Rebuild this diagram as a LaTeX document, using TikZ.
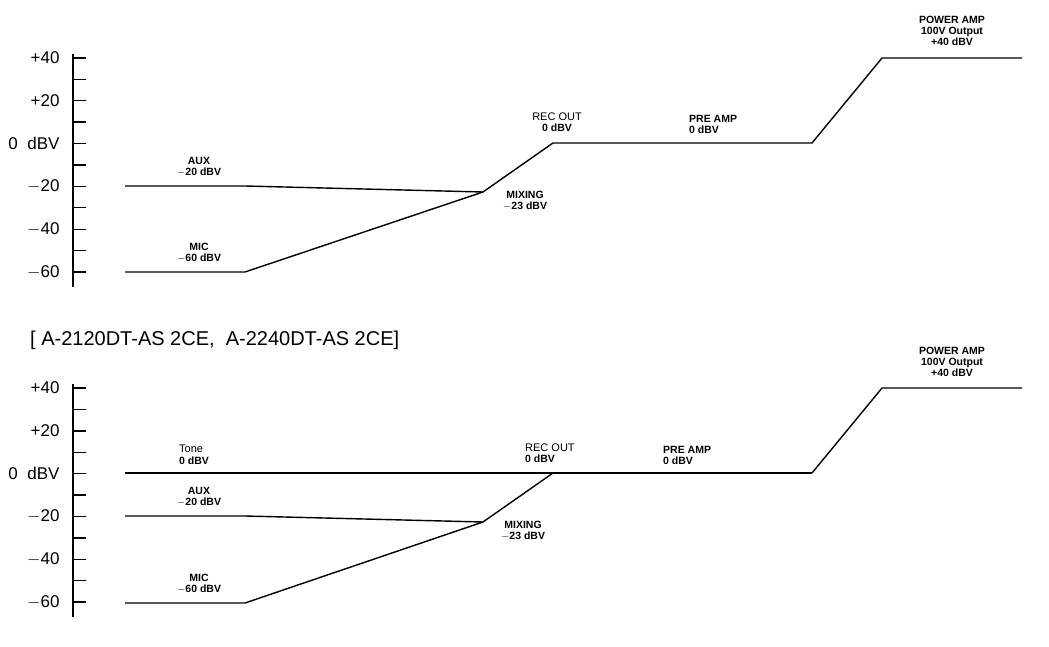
\documentclass[tikz,border=0pt]{standalone}
\usepackage{fontspec}
\setmainfont{Liberation Sans}
\begin{document}
\begin{tikzpicture}[x=1pt,y=-1pt,
  ln/.style={line width=1.4pt},
  ax/.style={line width=1.4pt},
  ylab/.style={anchor=east,font=\fontsize{17}{17}\selectfont},
  lab/.style={align=center,font=\fontsize{10.5}{11}\selectfont\bfseries,inner sep=0pt},
  pt/.style={inner sep=0pt,minimum size=0pt}]
\useasboundingbox (0,0) rectangle (1049,647);
% ---------- axes ----------
\foreach \b in {0,330}{
  \draw[ax] (73,{54+\b}) -- (73,{287+\b});
  \foreach \i in {0,...,10}{
    \draw[ax] (73,{58+\b+\i*21.4}) -- (86,{58+\b+\i*21.4});
  }
}
\foreach \b/\lt in {0/+40,1/+20,2/0\ \ dBV,3/$-$20,4/$-$40,5/$-$60}{
  \node[ylab] at (63,{58+\b*42.8}) {\lt};
  \node[ylab] at (63,{388+\b*42.8}) {\lt};
}
% ---------- top chart ----------
\node[pt] (a1) at (125,186) {};
\node[pt] (a2) at (245,186) {};
\node[pt] (m1) at (125,272) {};
\node[pt] (m2) at (245,272) {};
\node[pt] (mx) at (483,192) {};
\node[pt] (ro) at (553,143) {};
\node[pt] (pa) at (812,143) {};
\node[pt] (pw) at (882,58) {};
\node[pt] (pe) at (1022,58) {};
\draw[ln] (a1.center) -- (a2.center) -- (mx.center);
\draw[ln] (m1.center) -- (m2.center) -- (mx.center) -- (ro.center) -- (pa.center) -- (pw.center) -- (pe.center);
\node[lab] (laux) at (199,167) {AUX\\$-$20 dBV};
\node[lab] (lmix) at (525,201) {MIXING\\$-$23 dBV};
\node[lab] (lmic) at (199,253) {MIC\\$-$60 dBV};
\node[lab,font=\fontsize{11}{11.5}\selectfont] (lro) at (557,122) {REC OUT\\\bfseries\fontsize{10.5}{11}\selectfont 0 dBV};
\node[lab,align=left,anchor=west] (lpa) at (689,124) {PRE AMP\\0 dBV};
\node[lab] (lpw) at (952,31) {POWER AMP\\100V Output\\+40 dBV};
% ---------- title ----------
\node[anchor=west,font=\fontsize{20}{20}\selectfont,inner sep=0pt] (ttl) at (30,340) {[ A-2120DT-AS 2CE,\ \ A-2240DT-AS 2CE]};
% ---------- bottom chart ----------
\node[pt] (t1) at (125,473) {};
\node[pt] (b1) at (125,516) {};
\node[pt] (b2) at (245,516) {};
\node[pt] (n1) at (125,603) {};
\node[pt] (n2) at (245,603) {};
\node[pt] (bx) at (483,522) {};
\node[pt] (br) at (553,473) {};
\node[pt] (bp) at (812,473) {};
\node[pt] (bw) at (882,388) {};
\node[pt] (be) at (1022,388) {};
\draw[ln] (t1.center) -- (bp.center);
\draw[ln] (b1.center) -- (b2.center) -- (bx.center);
\draw[ln] (n1.center) -- (n2.center) -- (bx.center) -- (br.center);
\draw[ln] (bp.center) -- (bw.center) -- (be.center);
\node[lab,align=left,anchor=west,font=\fontsize{11}{11.5}\selectfont] (ltn) at (179,455) {Tone\\\bfseries\fontsize{10.5}{11}\selectfont 0 dBV};
\node[lab] (baux) at (199,497) {AUX\\$-$20 dBV};
\node[lab] (bmic) at (199,584) {MIC\\$-$60 dBV};
\node[lab] (bmix) at (523,531) {MIXING\\$-$23 dBV};
\node[lab,align=left,anchor=west,font=\fontsize{11}{11.5}\selectfont] (bro) at (525,453) {REC OUT\\\bfseries\fontsize{10.5}{11}\selectfont 0 dBV};
\node[lab,align=left,anchor=west] (bpa) at (663,455) {PRE AMP\\0 dBV};
\node[lab] (bpw) at (952,362) {POWER AMP\\100V Output\\+40 dBV};
\end{tikzpicture}
\end{document}
